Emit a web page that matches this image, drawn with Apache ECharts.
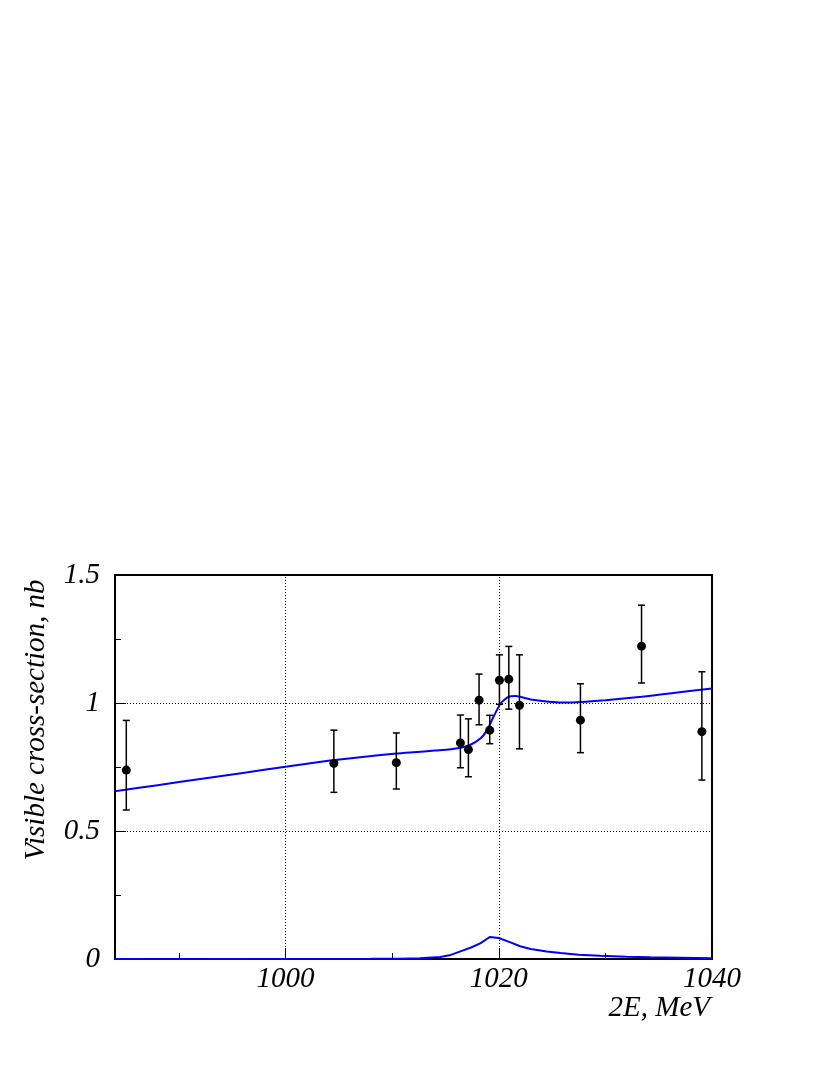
<!DOCTYPE html>
<html>
<head>
<meta charset="utf-8">
<script src="https://cdn.jsdelivr.net/npm/echarts@6/dist/echarts.min.js"></script>
<style>
html,body{margin:0;padding:0;background:#fff;}
#chart{width:830px;height:1075px;}
</style>
</head>
<body>
<div id="chart"></div>
<script>
// Data points (2E in MeV, visible cross-section in nb)
const ptX = [985.06, 1004.53, 1010.39, 1016.4, 1017.15, 1018.15, 1019.15, 1020.06, 1020.94, 1021.94, 1027.66, 1033.39, 1039.05];
const ptY = [0.738, 0.764, 0.767, 0.844, 0.818, 1.011, 0.894, 1.089, 1.093, 0.991, 0.933, 1.222, 0.888];
const ptLow = [0.582, 0.651, 0.664, 0.747, 0.712, 0.915, 0.841, 0.995, 0.976, 0.821, 0.806, 1.078, 0.699];
const ptHigh = [0.932, 0.894, 0.883, 0.953, 0.938, 1.113, 0.952, 1.188, 1.221, 1.188, 1.075, 1.382, 1.122];

// Fit curve
const fitX = [984, 988, 992, 996, 1000, 1004, 1007, 1010.4, 1012, 1014, 1015.5, 1016.4, 1017.3, 1018.3, 1018.9, 1019.5, 1020.2, 1020.9, 1021.6, 1023, 1024.5, 1026, 1027.7, 1030, 1033.4, 1036, 1040];
const fitY = [0.655, 0.679, 0.703, 0.727, 0.751, 0.774, 0.788, 0.803, 0.808, 0.814, 0.819, 0.825, 0.836, 0.862, 0.894, 0.946, 1.000, 1.024, 1.027, 1.014, 1.006, 1.002, 1.004, 1.011, 1.024, 1.037, 1.057];

// Resonance contribution curve
const resX = [984, 1008, 1010.7, 1012.6, 1014.5, 1015.5, 1016.4, 1017.4, 1018.3, 1019.15, 1020, 1021.1, 1022, 1023, 1024.5, 1025.8, 1027.5, 1029.5, 1032, 1034.2, 1037, 1040];
const resY = [0, 0.0005, 0.001, 0.003, 0.008, 0.016, 0.030, 0.045, 0.062, 0.086, 0.082, 0.065, 0.050, 0.039, 0.029, 0.023, 0.017, 0.013, 0.009, 0.007, 0.005, 0.003];

// Axis tick values
const xLabelVals = [1000, 1020, 1040];
const xMajorTicks = [1000, 1020];
const xMinorTicks = [990, 1010, 1030];
const xGridVals = [1000, 1020];

const FONT = 'Liberation Serif';
const chart = echarts.init(document.getElementById('chart'), null, {renderer: 'canvas'});

const zip = (a, b) => a.map((v, i) => [v, b[i]]);

const option = {
  backgroundColor: '#fff',
  animation: false,
  grid: {
    left: 115, top: 575, width: 597, height: 384,
    show: true, borderColor: '#000', borderWidth: 2, backgroundColor: 'transparent'
  },
  xAxis: [{
    type: 'value', min: 984, max: 1040, gridIndex: 0, position: 'bottom', offset: 0,
    axisLine: {show: false},
    splitLine: {show: false},
    axisTick: {show: true, inside: true, length: 11, customValues: xMajorTicks, lineStyle: {color: '#000', width: 1}},
    axisLabel: {show: true, customValues: xLabelVals, margin: 6, color: '#000', fontFamily: FONT, fontStyle: 'italic', fontSize: 29,
      formatter: v => String(Math.round(v))}
  }, {
    type: 'value', min: 984, max: 1040, gridIndex: 0, position: 'bottom', offset: 0,
    axisLine: {show: false},
    splitLine: {show: false},
    axisTick: {show: true, inside: true, length: 6, customValues: xMinorTicks, lineStyle: {color: '#000', width: 1}},
    axisLabel: {show: false}
  }],
  yAxis: [{
    type: 'value', min: 0, max: 1.5, interval: 0.5,
    axisLine: {show: false},
    axisTick: {show: true, inside: true, length: 11, lineStyle: {color: '#000', width: 1}},
    minorTick: {show: true, splitNumber: 2, length: 6, lineStyle: {color: '#000', width: 1}},
    splitLine: {show: true, lineStyle: {color: '#000', width: 1, type: [1, 2]}},
    axisLabel: {margin: 15, color: '#000', fontFamily: FONT, fontStyle: 'italic', fontSize: 29,
      formatter: v => String(v)}
  }],
  series: [{
    type: 'line', xAxisIndex: 0, yAxisIndex: 0, data: zip(resX, resY), showSymbol: false, symbol: 'none',
    lineStyle: {color: '#0000ff', width: 2}, z: 3,
    markLine: {
      silent: true, symbol: 'none', label: {show: false},
      lineStyle: {color: '#000', width: 1, type: [1, 2]},
      data: xGridVals.map(v => ({xAxis: v}))
    }
  }, {
    type: 'line', xAxisIndex: 0, yAxisIndex: 0, data: zip(fitX, fitY), showSymbol: false, symbol: 'none',
    smooth: 0.2, lineStyle: {color: '#0000ff', width: 2}, z: 3
  }, {
    type: 'custom', xAxisIndex: 0, yAxisIndex: 0, z: 4,
    data: ptX.map((x, i) => [x, ptLow[i], ptHigh[i]]),
    renderItem: function (params, api) {
      const x = api.value(0);
      const lo = api.coord([x, api.value(1)]);
      const hi = api.coord([x, api.value(2)]);
      const w = 3.5;
      const st = {stroke: '#000', lineWidth: 1.5};
      return {
        type: 'group',
        children: [
          {type: 'line', shape: {x1: lo[0], y1: lo[1], x2: hi[0], y2: hi[1]}, style: st},
          {type: 'line', shape: {x1: lo[0] - w, y1: lo[1], x2: lo[0] + w, y2: lo[1]}, style: st},
          {type: 'line', shape: {x1: hi[0] - w, y1: hi[1], x2: hi[0] + w, y2: hi[1]}, style: st}
        ]
      };
    }
  }, {
    type: 'scatter', xAxisIndex: 0, yAxisIndex: 0, data: zip(ptX, ptY), symbol: 'circle', symbolSize: 9,
    itemStyle: {color: '#000', opacity: 1}, z: 5
  }],
  graphic: [{
    type: 'text', x: 36, y: 720, rotation: Math.PI / 2,
    style: {text: 'Visible cross-section, nb', fill: '#000', font: 'italic 29px "Liberation Serif"', align: 'center', verticalAlign: 'middle'}
  }, {
    type: 'text', x: 710, y: 1008,
    style: {text: '2E, MeV', fill: '#000', font: 'italic 29px "Liberation Serif"', align: 'right', verticalAlign: 'middle'}
  }]
};
chart.setOption(option);
</script>
</body>
</html>
